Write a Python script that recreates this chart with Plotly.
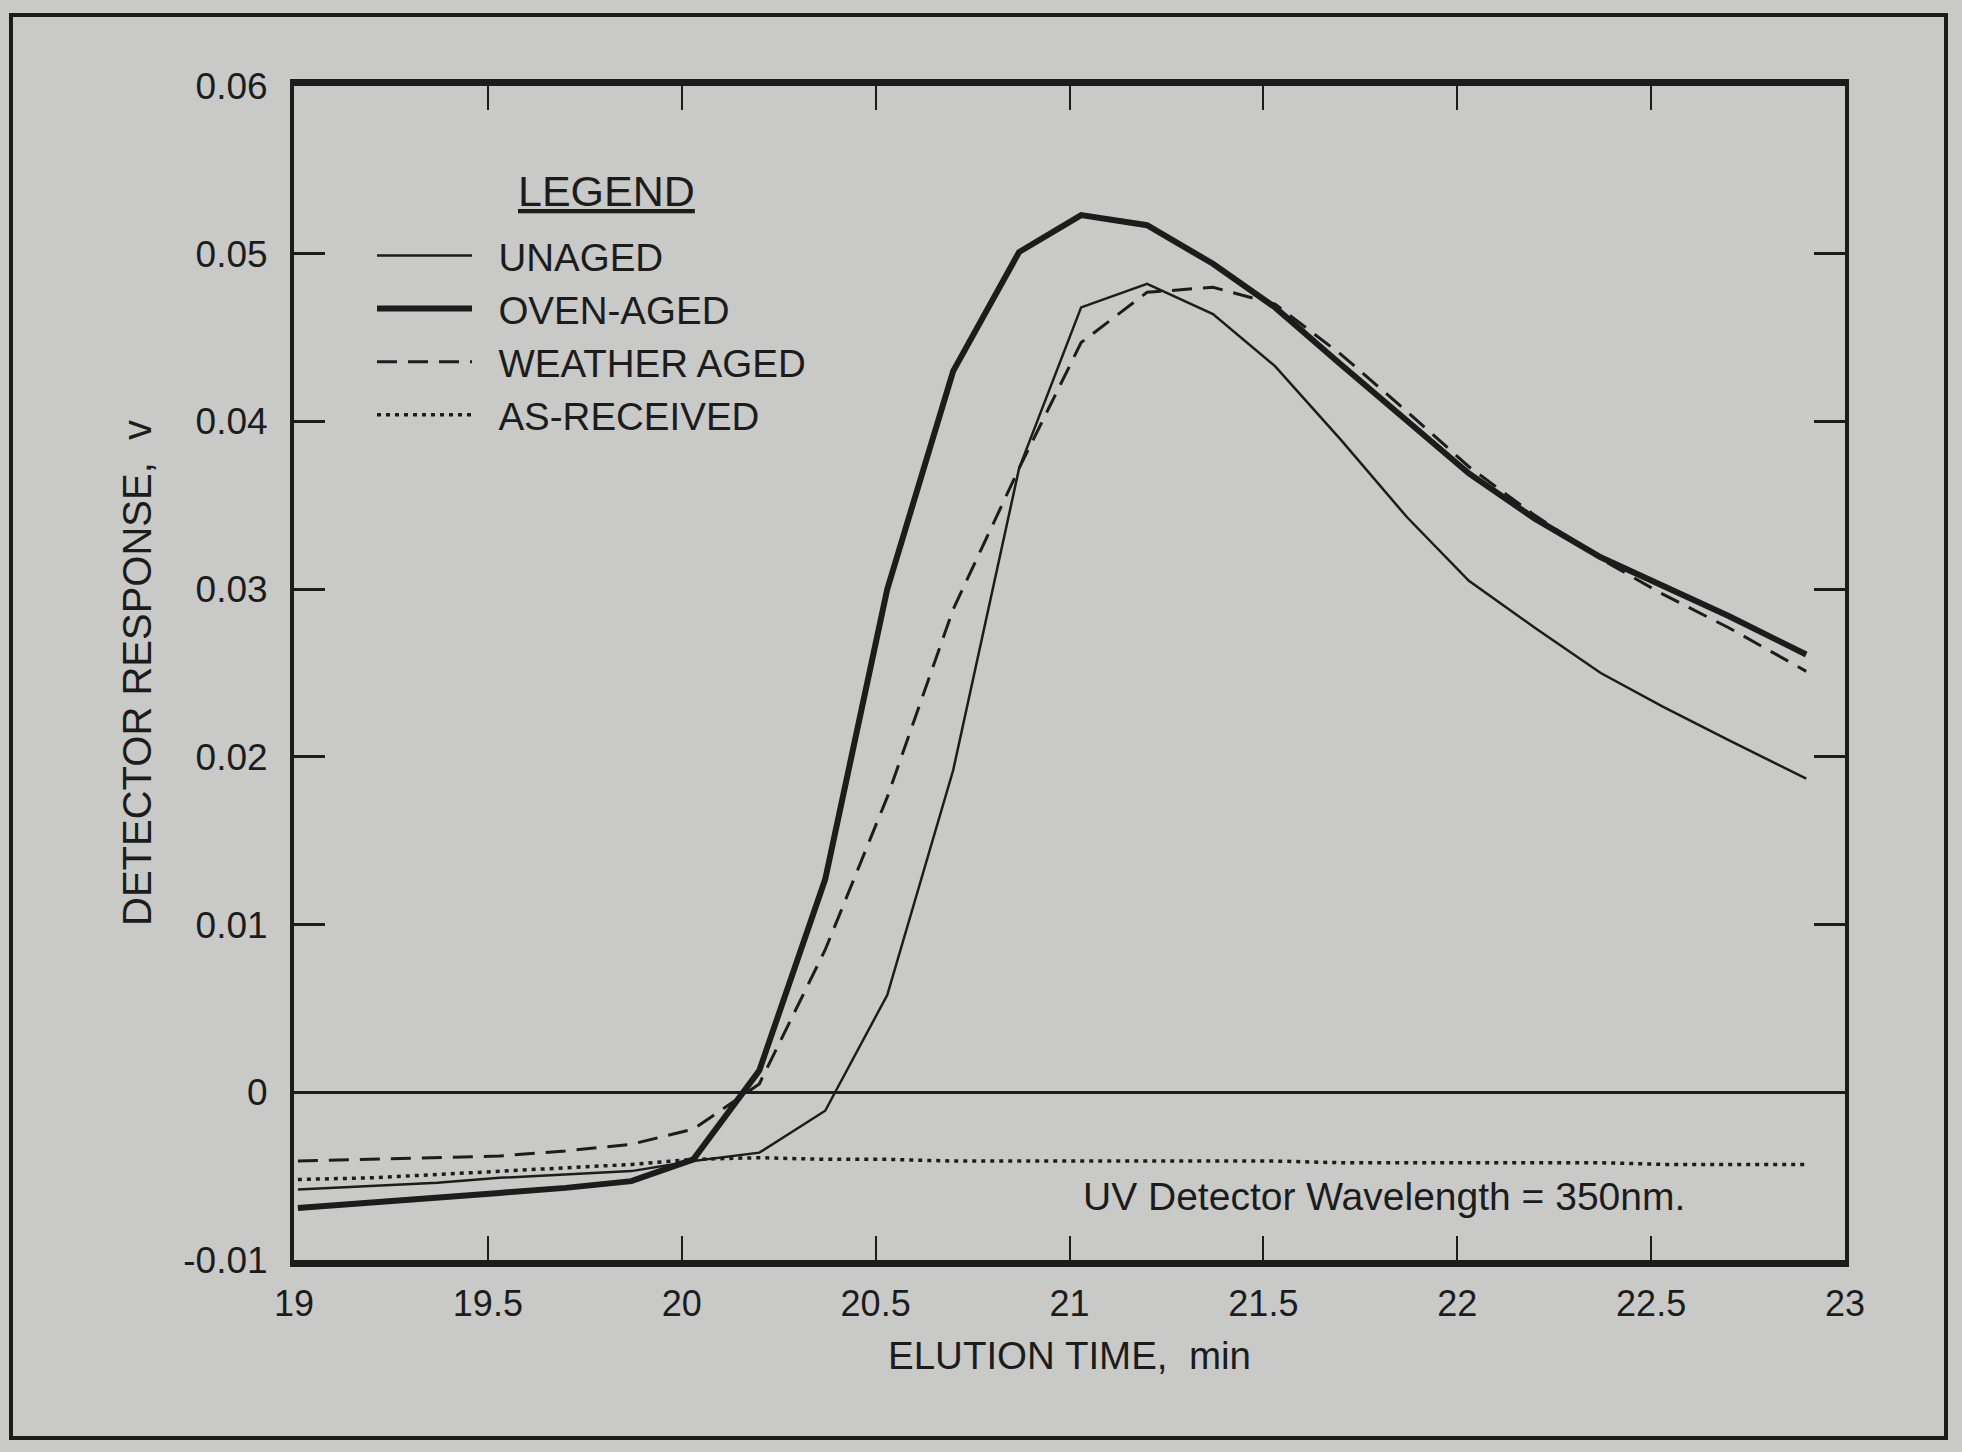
import plotly.graph_objects as go

# ---- data ----
time_min = [19.01, 19.20, 19.37, 19.53, 19.70, 19.87, 20.03, 20.20, 20.37, 20.53,
            20.70, 20.87, 21.03, 21.20, 21.37, 21.53, 21.70, 21.87, 22.03, 22.20,
            22.37, 22.53, 22.70, 22.90]

unaged = [-0.0058, -0.0056, -0.0054, -0.0051, -0.0049, -0.0047, -0.0041, -0.0036, -0.0011, 0.0058,
          0.0192, 0.0372, 0.0468, 0.0482, 0.0464, 0.0433, 0.0389, 0.0343, 0.0305, 0.0277,
          0.0250, 0.0230, 0.0210, 0.0187]

oven_aged = [-0.0069, -0.0066, -0.0063, -0.0060, -0.0057, -0.0053, -0.0040, 0.0013, 0.0127, 0.0300,
             0.0430, 0.0501, 0.0523, 0.0517, 0.0494, 0.0468, 0.0434, 0.0401, 0.0369, 0.0342,
             0.0319, 0.0302, 0.0284, 0.0261]

weather_aged = [-0.0041, -0.0040, -0.0039, -0.0038, -0.0035, -0.0031, -0.0022, 0.0005, 0.0085, 0.0176,
                0.0288, 0.0372, 0.0447, 0.0477, 0.0480, 0.0470, 0.0440, 0.0406, 0.0373, 0.0344,
                0.0318, 0.0297, 0.0277, 0.0251]

as_received = [-0.0052, -0.0051, -0.0049, -0.0047, -0.0045, -0.0043, -0.0040, -0.0039, -0.0040, -0.0040,
               -0.0041, -0.0041, -0.0041, -0.0041, -0.0041, -0.0041, -0.0042, -0.0042, -0.0042, -0.0042,
               -0.0042, -0.0043, -0.0043, -0.0043]

series_names = ["UNAGED", "OVEN-AGED", "WEATHER AGED", "AS-RECEIVED"]

x_tickvals = [19, 19.5, 20, 20.5, 21, 21.5, 22, 22.5, 23]
x_ticktext = ["19", "19.5", "20", "20.5", "21", "21.5", "22", "22.5", "23"]
y_tickvals = [-0.01, 0, 0.01, 0.02, 0.03, 0.04, 0.05, 0.06]
y_ticktext = ["-0.01", "0", "0.01", "0.02", "0.03", "0.04", "0.05", "0.06"]

legend_title = "LEGEND"
note_text = "UV Detector Wavelength = 350nm."

# ---- style ----
W, H = 1962, 1452
L, R, T, B = 294, 1845, 86, 1260
BG = "#c9c9c8"
INK = "#1c1c1c"
FONT = "Liberation Sans, Arial, Helvetica, sans-serif"
NBSP = "\u00a0"

fig = go.Figure()
styles = [
    dict(width=2.5, dash="solid"),
    dict(width=6, dash="solid"),
    dict(width=3, dash="20px,11px"),
    dict(width=3.5, dash="4px,5px"),
]
for name, ys, st in zip(series_names, [unaged, oven_aged, weather_aged, as_received], styles):
    fig.add_trace(go.Scatter(
        x=time_min, y=ys, name=NBSP * 2 + name, mode="lines",
        line=dict(color=INK, width=st["width"], dash=st["dash"]),
    ))

fig.add_annotation(
    x=21.81, y=-0.0062, xref="x", yref="y", text=note_text, showarrow=False,
    font=dict(family=FONT, size=39, color=INK), xanchor="center", yanchor="middle",
)


# pixel -> paper helpers (for figure decoration only)
def px_x(p):
    return (p - L) / (R - L)


def px_y(p):
    return (B - p) / (B - T)


# legend heading, underlined
fig.add_annotation(
    x=px_x(606), y=px_y(191), xref="paper", yref="paper",
    text="<u>" + legend_title + "</u>", showarrow=False,
    font=dict(family=FONT, size=43, color=INK), xanchor="center", yanchor="middle",
)

# outer frame around the whole figure
fig.add_shape(type="rect", xref="paper", yref="paper",
              x0=px_x(11), x1=px_x(1946), y0=px_y(1438), y1=px_y(15),
              line=dict(color=INK, width=4), layer="below")

fig.update_layout(
    width=W, height=H,
    margin=dict(l=L, r=W - R, t=T, b=H - B),
    paper_bgcolor=BG, plot_bgcolor=BG,
    font=dict(family=FONT, size=36, color=INK),
    showlegend=True,
    legend=dict(
        x=px_x(372), y=px_y(224), xanchor="left", yanchor="top",
        bgcolor="rgba(0,0,0,0)", borderwidth=0,
        font=dict(family=FONT, size=38.5, color=INK),
        itemwidth=95,
        tracegroupgap=0,
    ),
    xaxis=dict(
        range=[19, 23], tickvals=x_tickvals, ticktext=x_ticktext,
        showgrid=False, zeroline=False,
        showline=True, linecolor=INK, linewidth=6.5, mirror="ticks",
        ticks="inside", ticklen=24, tickwidth=2, tickcolor=INK,
        tickfont=dict(family=FONT, size=36, color=INK),
        ticklabelstandoff=6,
        title=dict(text="ELUTION TIME,  min", standoff=22,
                   font=dict(family=FONT, size=38.5, color=INK)),
    ),
    yaxis=dict(
        range=[-0.01, 0.06], tickvals=y_tickvals, ticktext=y_ticktext,
        showgrid=False, zeroline=True, zerolinecolor=INK, zerolinewidth=2.5,
        showline=True, linecolor=INK, linewidth=4, mirror="ticks",
        ticks="inside", ticklen=31, tickwidth=2.5, tickcolor=INK,
        tickfont=dict(family=FONT, size=37, color=INK),
        ticklabelstandoff=15,
        title=dict(text="DETECTOR RESPONSE,  v", standoff=20,
                   font=dict(family=FONT, size=40, color=INK)),
    ),
)

fig.write_html("out.html")
